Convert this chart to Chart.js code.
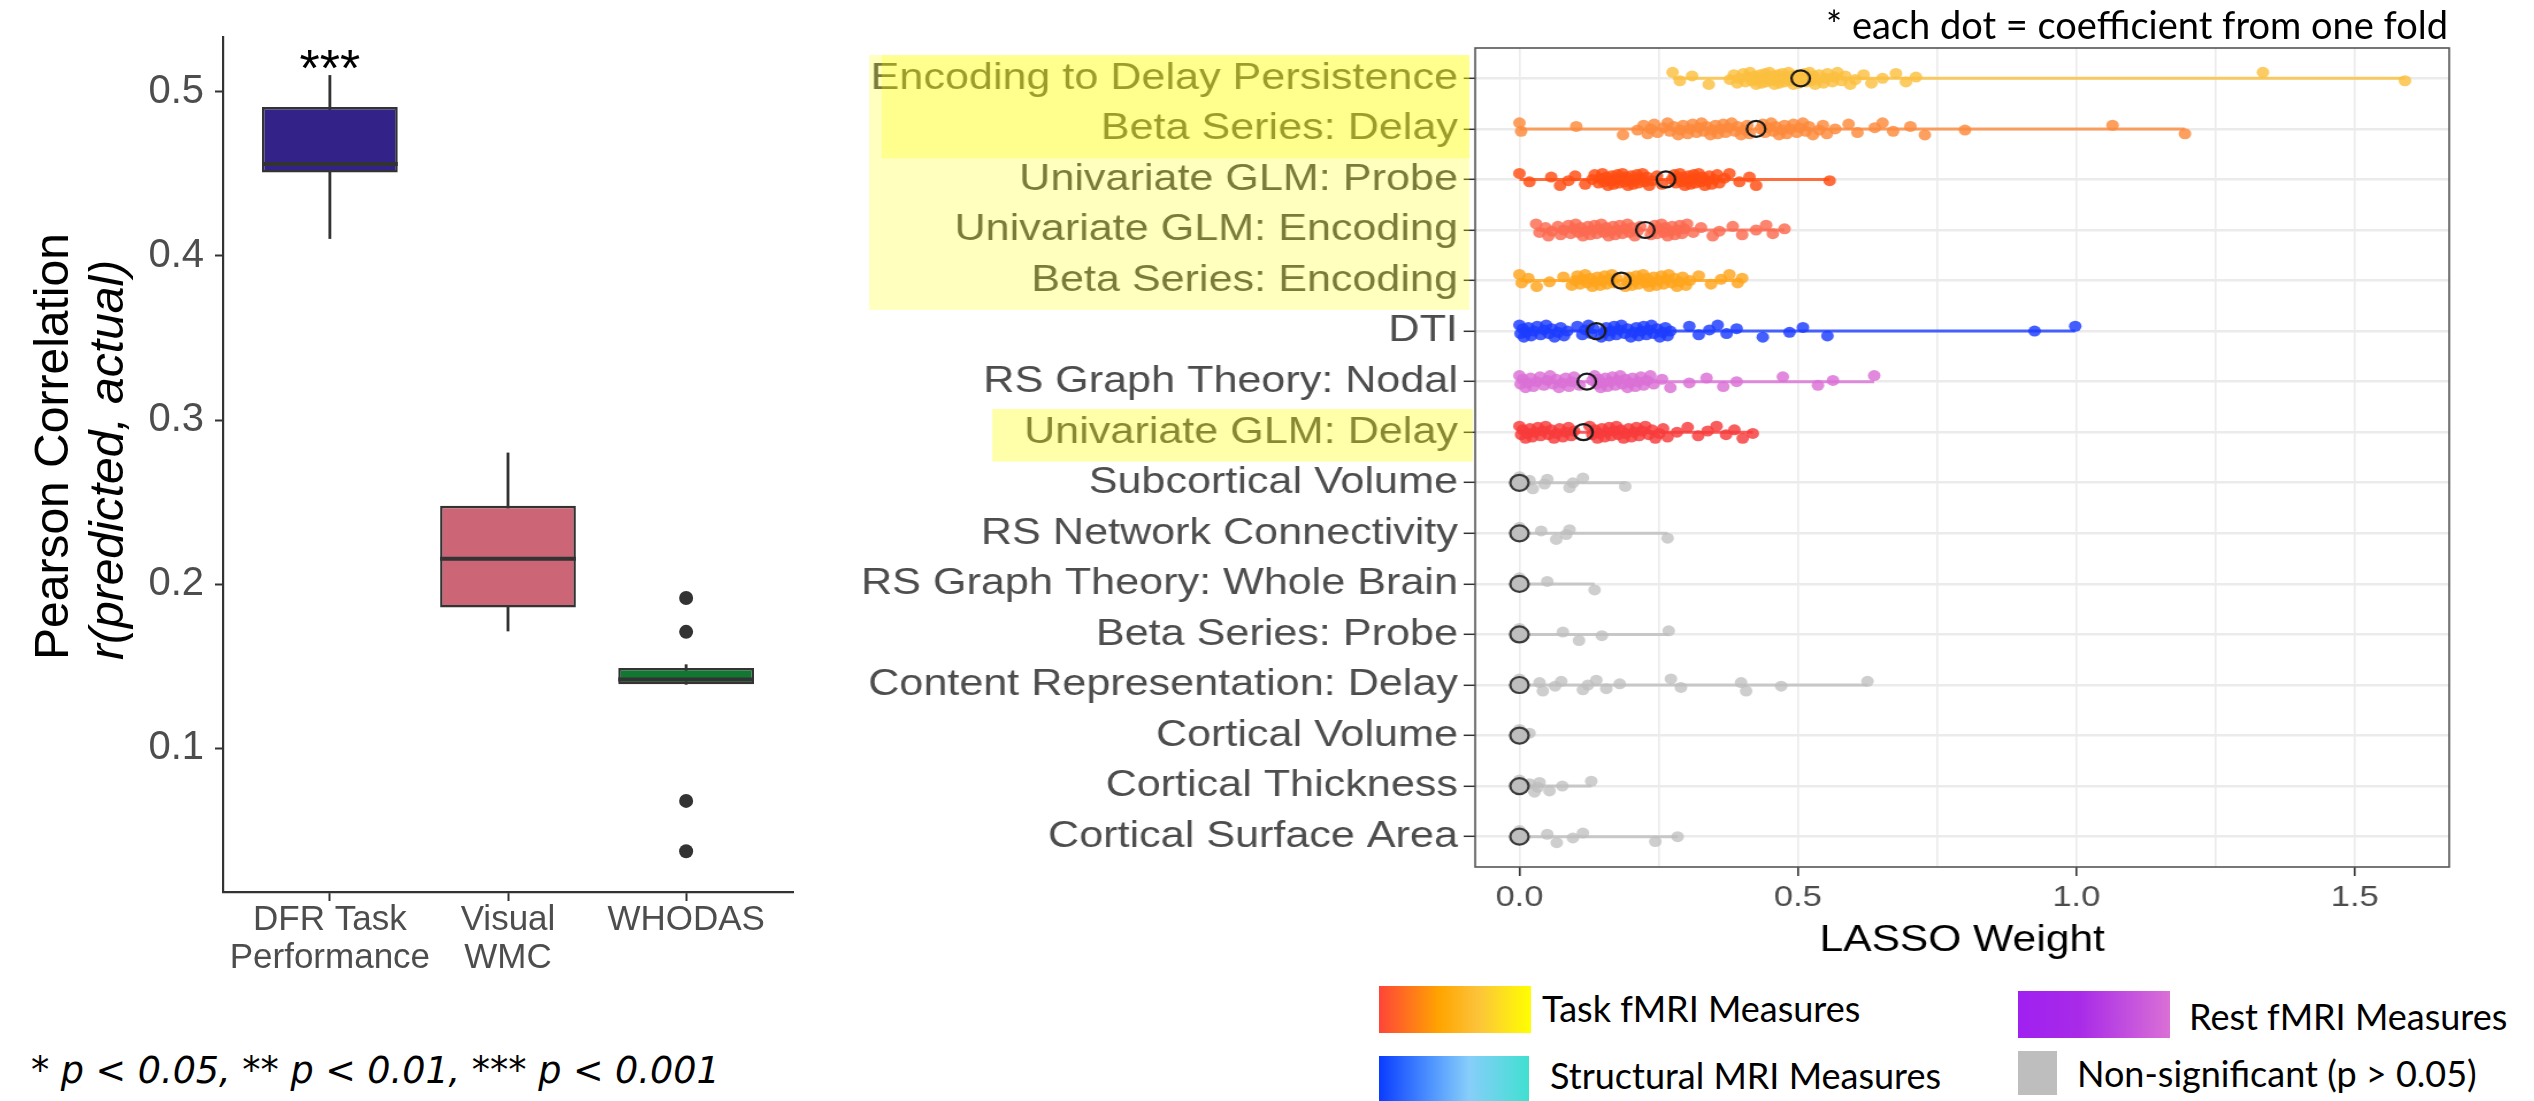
<!DOCTYPE html>
<html>
<head>
<meta charset="utf-8">
<title>Prediction accuracy and LASSO weights</title>
<script src="https://cdn.jsdelivr.net/npm/chart.js@4.4.1/dist/chart.umd.min.js"></script>
<style>
  html, body { margin: 0; padding: 0; background: #fff; }
  #page { position: relative; width: 2534px; height: 1101px; overflow: hidden; background: #fff; }
  #boxChart { position: absolute; left: 0; top: 0; }
  /* the weight panel is printed a little wider than tall, so stretch it */
  #lassoChart { position: absolute; left: 830px; top: 0; transform: scaleX(1.15); transform-origin: 0 0; }
  .note { position: absolute; font-family: Lato, "Open Sans", sans-serif; color: #000; white-space: nowrap; line-height: 1; }
  .swatch { position: absolute; }
</style>
</head>
<body>
<div id="page">
  <canvas id="boxChart" width="820" height="1000"></canvas>
  <canvas id="lassoChart" width="1482" height="985"></canvas>

  <div class="note" style="left:1826px; top:5px; font-size:38px;">* each dot = coefficient from one fold</div>
  <div class="note" style="left:31px; top:1053px; font-size:36.5px; font-family:'DejaVu Sans', sans-serif; font-style:italic;">* p &lt; 0.05, ** p &lt; 0.01, *** p &lt; 0.001</div>

  <div class="swatch" style="left:1379px; top:986px; width:152px; height:47px; background:linear-gradient(to right, #ff4538 0%, #ffa500 40%, #fcc33a 65%, #ffff00 100%);"></div>
  <div class="note" style="left:1542px; top:990px; font-size:36px;">Task fMRI Measures</div>
  <div class="swatch" style="left:1379px; top:1056px; width:150px; height:45px; background:linear-gradient(to right, #0a3cff 0%, #4f95ff 35%, #87cefa 60%, #40e0d0 100%);"></div>
  <div class="note" style="left:1550px; top:1057px; font-size:36px;">Structural MRI Measures</div>
  <div class="swatch" style="left:2018px; top:991px; width:152px; height:47px; background:linear-gradient(to right, #a020f0 0%, #a82ae8 40%, #da70d6 100%);"></div>
  <div class="note" style="left:2189px; top:998px; font-size:36px;">Rest fMRI Measures</div>
  <div class="swatch" style="left:2018px; top:1051px; width:39px; height:44px; background:#bebebe;"></div>
  <div class="note" style="left:2077px; top:1055px; font-size:36px;">Non-significant (p &gt; 0.05)</div>
</div>

<script>
// ---- left panel: prediction accuracy per outcome ----
const outcomes = [['DFR Task', 'Performance'], ['Visual', 'WMC'], ['WHODAS']];
const whiskerLow = [0.4106, 0.1715, 0.139];
const quartile1 = [0.4509, 0.1858, 0.139];
const medianR = [0.456, 0.2156, 0.142];
const quartile3 = [0.4908, 0.2478, 0.149];
const whiskerHigh = [0.51, 0.28, 0.151];
const outlierR = [[], [], [0.1916, 0.171, 0.068, 0.0373]];
const outcomeColors = ['#332288', '#cc6677', '#117733'];
const sigStars = ['***', '', ''];
const corrTicks = [0.1, 0.2, 0.3, 0.4, 0.5];

// ---- right panel: LASSO weight of each measure across folds ----
const measures = [
  'Encoding to Delay Persistence', 'Beta Series: Delay', 'Univariate GLM: Probe',
  'Univariate GLM: Encoding', 'Beta Series: Encoding', 'DTI', 'RS Graph Theory: Nodal',
  'Univariate GLM: Delay', 'Subcortical Volume', 'RS Network Connectivity',
  'RS Graph Theory: Whole Brain', 'Beta Series: Probe', 'Content Representation: Delay',
  'Cortical Volume', 'Cortical Thickness', 'Cortical Surface Area'
];
const measureColors = ['#fbbf3f', '#fd8a3c', '#ff4d12', '#fb6a50', '#ffa51c', '#1c3cff', '#da70d6', '#f83b3b',
  '#bebebe', '#bebebe', '#bebebe', '#bebebe', '#bebebe', '#bebebe', '#bebebe', '#bebebe'];
const significant = [true, true, true, true, true, true, true, true,
  false, false, false, false, false, false, false, false];
const medianWeight = [0.505, 0.425, 0.263, 0.226, 0.183, 0.138, 0.121, 0.115, 0, 0, 0, 0, 0, 0, 0, 0];

const persistenceFolds = [0.275, 0.288, 0.31, 0.34, 0.378, 0.385, 0.391, 0.395, 0.402, 0.406, 0.41, 0.414, 0.418,
  0.422, 0.425, 0.428, 0.432, 0.435, 0.437, 0.441, 0.443, 0.446, 0.449, 0.452, 0.456, 0.458, 0.461, 0.464, 0.467,
  0.47, 0.472, 0.476, 0.478, 0.483, 0.486, 0.489, 0.492, 0.494, 0.498, 0.502, 0.507, 0.512, 0.515, 0.518, 0.521,
  0.524, 0.528, 0.531, 0.535, 0.538, 0.546, 0.55, 0.553, 0.562, 0.566, 0.571, 0.578, 0.585, 0.594, 0.603, 0.618,
  0.632, 0.652, 0.676, 0.694, 0.712, 1.335, 1.59];
const betaDelayFolds = [0, 0.003, 0.102, 0.186, 0.212, 0.223, 0.23, 0.236, 0.242, 0.248, 0.259, 0.266, 0.27,
  0.277, 0.285, 0.289, 0.294, 0.302, 0.306, 0.311, 0.318, 0.322, 0.327, 0.331, 0.336, 0.343, 0.347, 0.352, 0.356,
  0.361, 0.366, 0.37, 0.375, 0.381, 0.387, 0.392, 0.398, 0.404, 0.409, 0.413, 0.433, 0.437, 0.441, 0.447, 0.452,
  0.456, 0.46, 0.466, 0.471, 0.476, 0.48, 0.486, 0.492, 0.498, 0.503, 0.509, 0.514, 0.52, 0.527, 0.538, 0.545,
  0.552, 0.567, 0.591, 0.607, 0.638, 0.652, 0.671, 0.702, 0.728, 0.8, 1.065, 1.195];
const glmProbeFolds = [0, 0.018, 0.057, 0.073, 0.088, 0.1, 0.118, 0.131, 0.135, 0.142, 0.145, 0.149, 0.152, 0.156,
  0.159, 0.163, 0.166, 0.169, 0.172, 0.176, 0.179, 0.182, 0.185, 0.188, 0.191, 0.195, 0.198, 0.201, 0.204, 0.208,
  0.211, 0.214, 0.217, 0.221, 0.225, 0.229, 0.233, 0.238, 0.247, 0.256, 0.274, 0.278, 0.281, 0.284, 0.288, 0.291,
  0.294, 0.297, 0.3, 0.304, 0.307, 0.31, 0.313, 0.316, 0.319, 0.322, 0.326, 0.329, 0.333, 0.337, 0.341, 0.345,
  0.35, 0.355, 0.359, 0.368, 0.377, 0.395, 0.413, 0.425, 0.557];
const glmEncodingFolds = [0.03, 0.036, 0.047, 0.052, 0.058, 0.069, 0.074, 0.079, 0.088, 0.092, 0.097, 0.101, 0.106,
  0.11, 0.114, 0.118, 0.123, 0.127, 0.131, 0.135, 0.139, 0.143, 0.147, 0.152, 0.156, 0.16, 0.164, 0.168, 0.172,
  0.176, 0.18, 0.185, 0.19, 0.194, 0.198, 0.202, 0.207, 0.212, 0.217, 0.236, 0.24, 0.243, 0.247, 0.251, 0.255,
  0.259, 0.262, 0.266, 0.27, 0.274, 0.279, 0.283, 0.288, 0.292, 0.296, 0.301, 0.312, 0.326, 0.347, 0.359, 0.383,
  0.4, 0.425, 0.443, 0.455, 0.476];
const betaEncodingFolds = [0, 0.004, 0.016, 0.031, 0.054, 0.079, 0.094, 0.1, 0.104, 0.109, 0.113, 0.118, 0.122,
  0.127, 0.131, 0.136, 0.14, 0.145, 0.149, 0.153, 0.157, 0.161, 0.166, 0.17, 0.174, 0.19, 0.194, 0.197, 0.202,
  0.206, 0.21, 0.214, 0.218, 0.222, 0.226, 0.229, 0.233, 0.237, 0.241, 0.246, 0.25, 0.255, 0.259, 0.264, 0.268,
  0.273, 0.278, 0.283, 0.288, 0.293, 0.299, 0.306, 0.322, 0.344, 0.362, 0.377, 0.392, 0.4];
const dtiFolds = [0, 0.002, 0.006, 0.008, 0.012, 0.016, 0.021, 0.026, 0.032, 0.038, 0.044, 0.048, 0.053, 0.058,
  0.063, 0.069, 0.074, 0.08, 0.086, 0.104, 0.113, 0.118, 0.124, 0.129, 0.133, 0.147, 0.152, 0.156, 0.161, 0.165,
  0.17, 0.174, 0.179, 0.183, 0.189, 0.194, 0.2, 0.205, 0.21, 0.214, 0.219, 0.223, 0.228, 0.232, 0.237, 0.241,
  0.247, 0.252, 0.257, 0.262, 0.266, 0.271, 0.305, 0.322, 0.341, 0.356, 0.372, 0.39, 0.437, 0.485, 0.509, 0.553,
  0.925, 0.998];
const nodalFolds = [0, 0.002, 0.006, 0.011, 0.015, 0.02, 0.025, 0.031, 0.037, 0.044, 0.05, 0.055, 0.06, 0.066,
  0.071, 0.077, 0.083, 0.089, 0.094, 0.098, 0.108, 0.131, 0.135, 0.139, 0.142, 0.146, 0.15, 0.154, 0.158, 0.163,
  0.167, 0.172, 0.176, 0.181, 0.185, 0.19, 0.194, 0.199, 0.203, 0.208, 0.213, 0.218, 0.223, 0.229, 0.235, 0.241,
  0.256, 0.271, 0.305, 0.336, 0.366, 0.39, 0.473, 0.536, 0.563, 0.637];
const glmDelayFolds = [0, 0.003, 0.006, 0.011, 0.015, 0.019, 0.023, 0.028, 0.033, 0.038, 0.042, 0.047, 0.052,
  0.057, 0.062, 0.067, 0.072, 0.078, 0.083, 0.088, 0.093, 0.098, 0.126, 0.131, 0.136, 0.14, 0.144, 0.148, 0.153,
  0.157, 0.161, 0.165, 0.17, 0.174, 0.178, 0.182, 0.187, 0.191, 0.196, 0.201, 0.206, 0.21, 0.215, 0.22, 0.226,
  0.232, 0.238, 0.244, 0.251, 0.258, 0.266, 0.283, 0.302, 0.321, 0.338, 0.354, 0.371, 0.386, 0.401, 0.419];
const subcorticalFolds = [0, 0, 0.018, 0.024, 0.045, 0.05, 0.09, 0.096, 0.114, 0.19];
const networkFolds = [0, 0, 0.039, 0.066, 0.084, 0.09, 0.266];
const wholeBrainFolds = [0, 0, 0.05, 0.135];
const betaProbeFolds = [0, 0, 0.078, 0.107, 0.148, 0.268];
const contentDelayFolds = [0, 0, 0.036, 0.042, 0.064, 0.075, 0.114, 0.123, 0.138, 0.156, 0.18, 0.272, 0.29,
  0.398, 0.407, 0.47, 0.625];
const corticalVolumeFolds = [0, 0, 0.018];
const thicknessFolds = [0, 0, 0.018, 0.027, 0.033, 0.036, 0.054, 0.077, 0.129];
const surfaceFolds = [0, 0, 0.05, 0.067, 0.096, 0.114, 0.244, 0.284];

const foldWeights = [persistenceFolds, betaDelayFolds, glmProbeFolds, glmEncodingFolds, betaEncodingFolds,
  dtiFolds, nodalFolds, glmDelayFolds, subcorticalFolds, networkFolds, wholeBrainFolds, betaProbeFolds,
  contentDelayFolds, corticalVolumeFolds, thicknessFolds, surfaceFolds];
const weightTicks = [0, 0.5, 1.0, 1.5];
const weightGrid = [0, 0.25, 0.5, 0.75, 1.0, 1.25, 1.5];

Chart.defaults.font.family = '"Liberation Sans", Arial, Helvetica, sans-serif';
Chart.defaults.animation = false;

function fade(hex, a) {
  const n = parseInt(hex.slice(1), 16);
  return 'rgba(' + (n >> 16) + ',' + ((n >> 8) & 255) + ',' + (n & 255) + ',' + a + ')';
}

// medians, stars and the two-line y title
const boxDecor = {
  id: 'boxDecor',
  afterDatasetsDraw(chart) {
    const ctx = chart.ctx, xs = chart.scales.x, ys = chart.scales.y;
    const bars = chart.getDatasetMeta(1).data;
    ctx.save();
    ctx.strokeStyle = '#333';
    ctx.lineWidth = 4;
    medianR.forEach((m, i) => {
      const b = bars[i], py = ys.getPixelForValue(m);
      ctx.beginPath();
      ctx.moveTo(b.x - b.width / 2, py);
      ctx.lineTo(b.x + b.width / 2, py);
      ctx.stroke();
    });
    ctx.fillStyle = '#000';
    ctx.font = '52px "Liberation Sans", Arial, sans-serif';
    ctx.textAlign = 'center';
    sigStars.forEach((s, i) => {
      if (s) ctx.fillText(s, xs.getPixelForValue(i + 1), ys.getPixelForValue(whiskerHigh[i]) + 11);
    });
    ctx.restore();
  },
  afterDraw(chart) {
    const ctx = chart.ctx;
    ctx.save();
    ctx.fillStyle = '#000';
    ctx.textAlign = 'left';
    ctx.translate(68, 660);
    ctx.rotate(-Math.PI / 2);
    ctx.font = '48px "Liberation Sans", Arial, sans-serif';
    ctx.fillText('Pearson Correlation', 0, 0);
    ctx.font = 'italic 48px "Liberation Sans", Arial, sans-serif';
    ctx.fillText('r(predicted, actual)', 0, 55);
    ctx.restore();
  }
};

new Chart(document.getElementById('boxChart'), {
  type: 'bar',
  data: {
    datasets: [
      {
        data: outcomes.map((_, i) => ({ x: i + 1, y: [whiskerLow[i], whiskerHigh[i]] })),
        backgroundColor: '#333', barThickness: 2.2, grouped: false, order: 3
      },
      {
        data: outcomes.map((_, i) => ({ x: i + 1, y: [quartile1[i], quartile3[i]] })),
        backgroundColor: outcomeColors, borderColor: '#333', borderWidth: 2.5, borderSkipped: false,
        barPercentage: 0.762, categoryPercentage: 1, grouped: false, order: 2
      },
      {
        type: 'scatter',
        data: outlierR.flatMap((list, i) => list.map(v => ({ x: i + 1, y: v }))),
        backgroundColor: '#333', borderWidth: 0, pointRadius: 7, order: 1
      }
    ]
  },
  options: {
    responsive: false,
    devicePixelRatio: 1,
    events: [],
    layout: { padding: { top: 37, right: 27, left: 0, bottom: 0 } },
    plugins: { legend: { display: false }, tooltip: { enabled: false } },
    scales: {
      x: {
        type: 'linear', min: 0.4, max: 3.6, offset: false,
        afterBuildTicks: s => { s.ticks = outcomes.map((_, i) => ({ value: i + 1 })); },
        ticks: {
          callback: v => outcomes[v - 1], color: '#4d4d4d', padding: 0, autoSkip: false, maxRotation: 0,
          font: { size: 35, lineHeight: 1.09 }
        },
        grid: { drawOnChartArea: false, offset: false, tickLength: 9, tickColor: '#333', tickWidth: 2 },
        border: { color: '#333', width: 2.2 },
        afterFit: s => { s.height = 108; }
      },
      y: {
        type: 'linear', min: 0.0125, max: 0.5334, beginAtZero: false,
        afterBuildTicks: s => { s.ticks = corrTicks.map(v => ({ value: v })); },
        ticks: { callback: v => v.toFixed(1), color: '#4d4d4d', padding: 11, font: { size: 40 } },
        grid: { drawOnChartArea: false, tickLength: 8, tickColor: '#333', tickWidth: 2 },
        border: { color: '#333', width: 2.2 },
        afterFit: s => { s.width = 223; }
      }
    }
  },
  plugins: [boxDecor]
});

// panel frame and yellow label highlights
const highlightBands = [
  { from: 1, to: 5, left: 34, right: 556, alpha: 0.255 },
  { from: 1, to: 2, left: 45, right: 556, alpha: 0.26 },
  { from: 8, to: 8, left: 141, right: 559, alpha: 0.333 }
];
const lassoDecor = {
  id: 'lassoDecor',
  afterDatasetsDraw(chart) {
    const ctx = chart.ctx, a = chart.chartArea;
    ctx.save();
    ctx.strokeStyle = '#555';
    ctx.lineWidth = 1.6;
    ctx.strokeRect(a.left, a.top, a.right - a.left, a.bottom - a.top);
    ctx.restore();
  },
  afterDraw(chart) {
    const ctx = chart.ctx, ys = chart.scales.y;
    ctx.save();
    highlightBands.forEach(b => {
      const top = ys.getPixelForValue(b.from - 0.46);
      const bottom = ys.getPixelForValue(b.to + 0.58);
      ctx.fillStyle = 'rgba(255,255,0,' + b.alpha + ')';
      ctx.fillRect(b.left, top, b.right - b.left, bottom - top);
    });
    ctx.restore();
  }
};

// small vertical spread so overlapping folds stay visible
const spread = k => (((k * 7) % 11) - 5) * 0.024;

const lassoSets = [];
measures.forEach((name, i) => {
  const vals = foldWeights[i];
  const row = i + 1;
  const col = measureColors[i];
  lassoSets.push({
    type: 'line',
    data: [{ x: Math.min(...vals), y: row }, { x: Math.max(...vals), y: row }],
    borderColor: fade(col, 0.8), borderWidth: 3, pointRadius: 0, order: 3
  });
  lassoSets.push({
    type: 'scatter',
    data: vals.map((v, k) => ({ x: v, y: row + spread(k) })),
    backgroundColor: fade(col, significant[i] ? 0.82 : 0.75), borderWidth: 0, pointRadius: 5.5, order: 2
  });
});
lassoSets.push({
  type: 'scatter',
  data: medianWeight.map((m, i) => ({ x: m, y: i + 1 })),
  backgroundColor: significant.map(s => (s ? 'rgba(0,0,0,0)' : '#bebebe')),
  borderColor: significant.map(s => (s ? '#1a1a1a' : '#3a3a3a')),
  borderWidth: 2.2, pointRadius: 8, order: 1
});

new Chart(document.getElementById('lassoChart'), {
  type: 'scatter',
  data: { datasets: lassoSets },
  options: {
    responsive: false,
    devicePixelRatio: 1,
    events: [],
    layout: { padding: { top: 48, right: 74, left: 0, bottom: 0 } },
    plugins: { legend: { display: false }, tooltip: { enabled: false } },
    scales: {
      x: {
        type: 'linear', min: -0.0795, max: 1.6695,
        afterBuildTicks: s => { s.ticks = weightGrid.map(v => ({ value: v })); },
        ticks: {
          callback: v => (weightTicks.includes(v) ? v.toFixed(1) : ''),
          color: '#4d4d4d', padding: 4, autoSkip: false, maxRotation: 0, font: { size: 30 }
        },
        grid: {
          color: '#ebebeb', lineWidth: 1.6, tickLength: 9, tickWidth: 1.6,
          tickColor: c => (c.tick && weightTicks.includes(c.tick.value) ? '#333' : 'rgba(0,0,0,0)')
        },
        border: { display: false },
        title: { display: true, text: 'LASSO Weight', color: '#000', font: { size: 37 }, padding: { top: 0, bottom: 22 } },
        afterFit: s => { s.height = 118; }
      },
      y: {
        type: 'linear', min: 0.4, max: 16.6, reverse: true,
        afterBuildTicks: s => { s.ticks = measures.map((_, i) => ({ value: i + 1 })); },
        ticks: { callback: v => measures[v - 1], color: '#4d4d4d', padding: 5, autoSkip: false, font: { size: 37.5 } },
        grid: { color: '#ebebeb', lineWidth: 2.6, tickLength: 10, tickColor: '#333', tickWidth: 1.5 },
        border: { display: false },
        afterFit: s => { s.width = 561; }
      }
    }
  },
  plugins: [lassoDecor]
});
</script>
</body>
</html>
